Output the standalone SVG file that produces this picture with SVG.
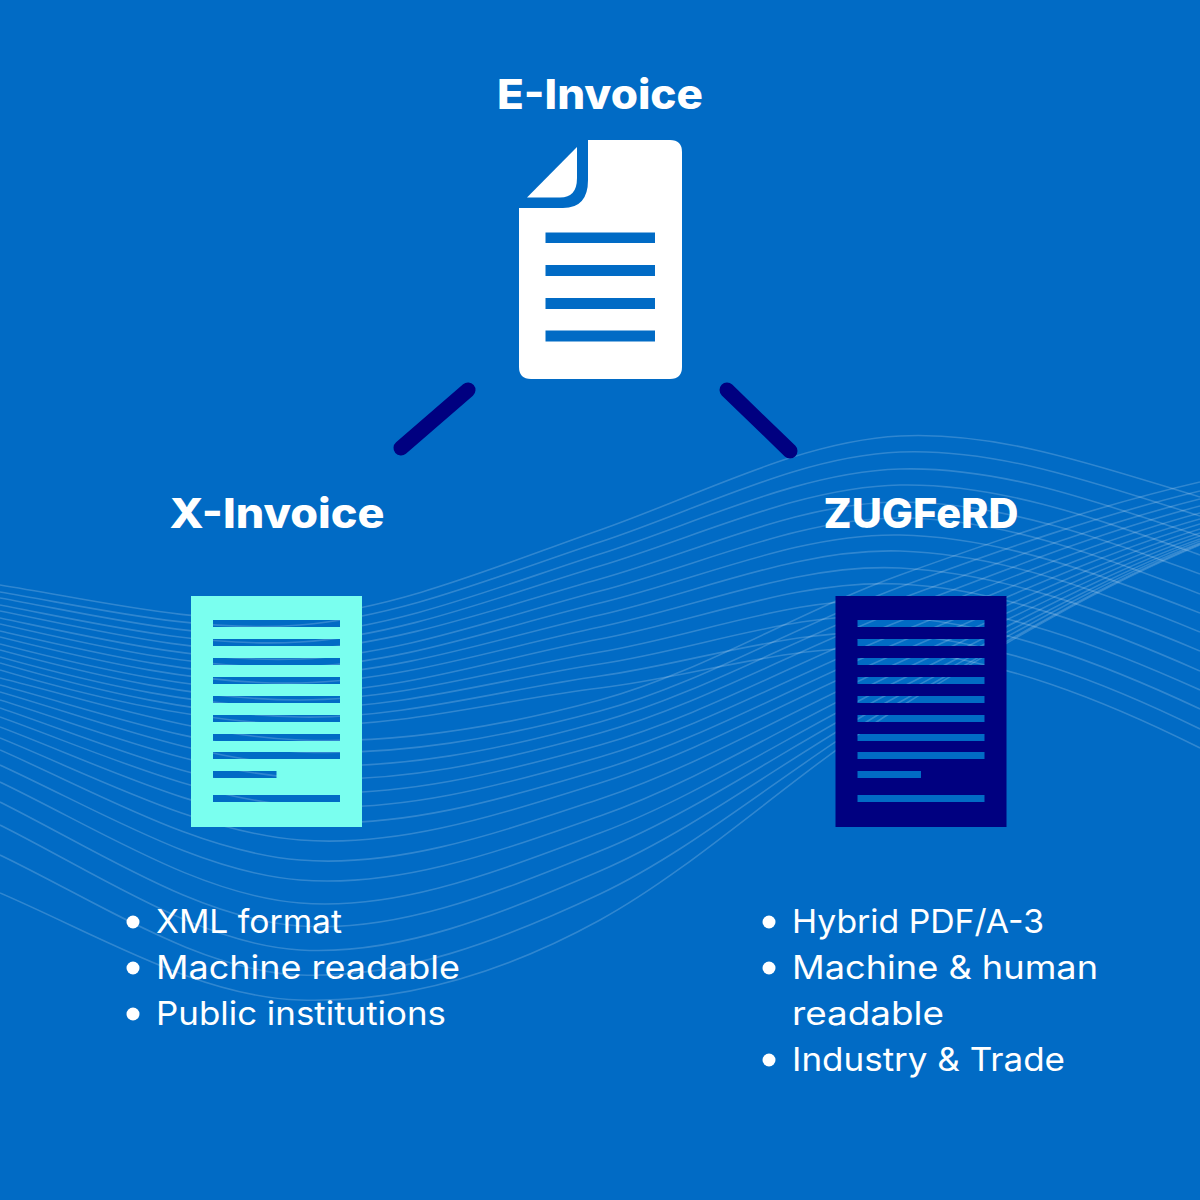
<svg xmlns="http://www.w3.org/2000/svg" width="1200" height="1200" viewBox="0 0 1200 1200">
<style>
.wave{fill:none;stroke:#fff;stroke-opacity:.19;stroke-width:1.6}
.title{font-family:"Inter","Liberation Sans",sans-serif;font-weight:800;font-size:41px;fill:#fff}
.body{font-family:"Inter","Liberation Sans",sans-serif;font-weight:400;font-size:32.5px;fill:#fff}
.conn{fill:none;stroke:#000080;stroke-width:15;stroke-linecap:round}
.dot{fill:#fff}
</style>
<rect width="1200" height="1200" fill="#016BC5"/>
<g id="waves">
<path class="wave" d="M0 585C100 601 200 626 300 617S500 565 600 530S800 441 900 436S1100 467 1200 497"/>
<path class="wave" d="M0 592C100 609 200 633 300 625S500 575 600 542S800 456 900 452S1100 485 1200 516"/>
<path class="wave" d="M0 598C100 616 200 641 300 634S500 586 600 554S800 472 900 469S1100 503 1200 536"/>
<path class="wave" d="M0 605C100 624 200 648 300 642S500 596 600 566S800 487 900 485S1100 520 1200 555"/>
<path class="wave" d="M0 611C100 631 200 656 300 650S500 607 600 579S800 502 900 502S1100 538 1200 574"/>
<path class="wave" d="M0 618C100 639 200 663 300 659S500 617 600 591S800 518 900 518S1100 556 1200 594"/>
<path class="wave" d="M0 624C100 647 200 670 300 667S500 627 600 603S800 533 900 535S1100 574 1200 613"/>
<path class="wave" d="M0 631C100 654 200 678 300 675S500 638 600 615S800 548 900 551S1100 591 1200 632"/>
<path class="wave" d="M0 637C100 662 200 685 300 683S500 648 600 627S800 563 900 568S1100 609 1200 651"/>
<path class="wave" d="M0 644C100 670 200 692 300 692S500 658 600 639S800 579 900 584S1100 627 1200 671"/>
<path class="wave" d="M0 650C100 677 200 700 300 700S500 669 600 652S800 594 900 601S1100 645 1200 690"/>
<path class="wave" d="M0 657C100 685 200 707 300 708S500 679 600 664S800 609 900 617S1100 662 1200 709"/>
<path class="wave" d="M0 663C100 692 200 715 300 717S500 690 600 676S800 625 900 634S1100 680 1200 729"/>
<path class="wave" d="M0 670C100 700 200 722 300 725S500 700 600 688S800 640 900 650S1100 698 1200 748"/>
<path class="wave" d="M0 678C100 703 200 736 300 740S500 727 600 700S800 611 900 575S1100 505 1200 482"/>
<path class="wave" d="M0 685C100 712 200 748 300 752S500 738 600 711S800 624 900 587S1100 515 1200 491"/>
<path class="wave" d="M0 692C100 721 200 760 300 765S500 750 600 722S800 636 900 599S1100 524 1200 499"/>
<path class="wave" d="M0 700C100 731 200 772 300 778S500 761 600 733S800 648 900 610S1100 532 1200 506"/>
<path class="wave" d="M0 708C100 742 200 786 300 792S500 773 600 745S800 660 900 621S1100 540 1200 513"/>
<path class="wave" d="M0 717C100 753 200 799 300 806S500 786 600 757S800 672 900 632S1100 547 1200 519"/>
<path class="wave" d="M0 727C100 765 200 815 300 822S500 800 600 770S800 683 900 642S1100 554 1200 524"/>
<path class="wave" d="M0 738C100 779 200 832 300 840S500 814 600 783S800 694 900 652S1100 560 1200 529"/>
<path class="wave" d="M0 750C100 794 200 852 300 860S500 832 600 799S800 706 900 662S1100 565 1200 533"/>
<path class="wave" d="M0 765C100 811 200 872 300 880S500 851 600 816S800 717 900 671S1100 570 1200 536"/>
<path class="wave" d="M0 782C100 830 200 895 300 903S500 870 600 833S800 728 900 680S1100 574 1200 539"/>
<path class="wave" d="M0 802C100 852 200 919 300 926S500 891 600 851S800 738 900 688S1100 578 1200 541"/>
<path class="wave" d="M0 825C100 875 200 944 300 950S500 914 600 871S800 748 900 695S1100 581 1200 543"/>
<path class="wave" d="M0 855C100 903 200 971 300 975S500 941 600 894S800 758 900 702S1100 584 1200 544"/>
<path class="wave" d="M0 893C100 936 200 997 300 1000S500 975 600 920S800 768 900 707S1100 586 1200 545"/>
</g>
<g id="connectors">
<line class="conn" x1="468" y1="390" x2="401" y2="448"/>
<line class="conn" x1="727" y1="390" x2="790" y2="451"/>
</g>
<g id="e-invoice">
<text class="title" x="497" y="109" textLength="206" lengthAdjust="spacingAndGlyphs">E-Invoice</text>
<path fill="#fff" fill-rule="evenodd" d="M588 140H670Q682 140 682 152V367Q682 379 670 379H531Q519 379 519 367V208H563Q588 208 588 180ZM545.500 232.500V243H655V232.500ZM545.500 265V276H655V265ZM545.500 298V309H655V298ZM545.500 330.500V341.500H655V330.500Z"/>
<path fill="#fff" d="M527 197.500L577 147V178Q577 197.500 560 197.500Z"/>
</g>
<g id="x-invoice">
<text class="title" x="169.500" y="528" textLength="215" lengthAdjust="spacingAndGlyphs">X-Invoice</text>
<path fill="#7AFFEF" fill-rule="evenodd" d="M191 596H362V827H191ZM213 620V627H340V620ZM213 639V646H340V639ZM213 658V665H340V658ZM213 677V684H340V677ZM213 696V703H340V696ZM213 715V722H340V715ZM213 734V741H340V734ZM213 752V759H340V752ZM213 771V778H276.500V771ZM213 795V802H340V795Z"/>
<circle class="dot" cx="133" cy="922" r="6.500"/>
<circle class="dot" cx="133" cy="968" r="6.500"/>
<circle class="dot" cx="133" cy="1014" r="6.500"/>
<text class="body" x="156" y="933" textLength="186" lengthAdjust="spacingAndGlyphs">XML format</text>
<text class="body" x="156" y="979" textLength="304" lengthAdjust="spacingAndGlyphs">Machine readable</text>
<text class="body" x="156" y="1025" textLength="290" lengthAdjust="spacingAndGlyphs">Public institutions</text>
</g>
<g id="zugferd">
<text class="title" x="823.500" y="528" textLength="195" lengthAdjust="spacingAndGlyphs">ZUGFeRD</text>
<path fill="#000080" fill-rule="evenodd" d="M835.500 596H1006.500V827H835.500ZM857.500 620V627H984.500V620ZM857.500 639V646H984.500V639ZM857.500 658V665H984.500V658ZM857.500 677V684H984.500V677ZM857.500 696V703H984.500V696ZM857.500 715V722H984.500V715ZM857.500 734V741H984.500V734ZM857.500 752V759H984.500V752ZM857.500 771V778H921V771ZM857.500 795V802H984.500V795Z"/>
<circle class="dot" cx="769" cy="922" r="6.500"/>
<circle class="dot" cx="769" cy="968" r="6.500"/>
<circle class="dot" cx="769" cy="1060" r="6.500"/>
<text class="body" x="792" y="933" textLength="252" lengthAdjust="spacingAndGlyphs">Hybrid PDF/A-3</text>
<text class="body" x="792" y="979" textLength="306" lengthAdjust="spacingAndGlyphs">Machine &amp; human</text>
<text class="body" x="792" y="1025" textLength="152" lengthAdjust="spacingAndGlyphs">readable</text>
<text class="body" x="792" y="1071" textLength="273" lengthAdjust="spacingAndGlyphs">Industry &amp; Trade</text>
</g>
</svg>
